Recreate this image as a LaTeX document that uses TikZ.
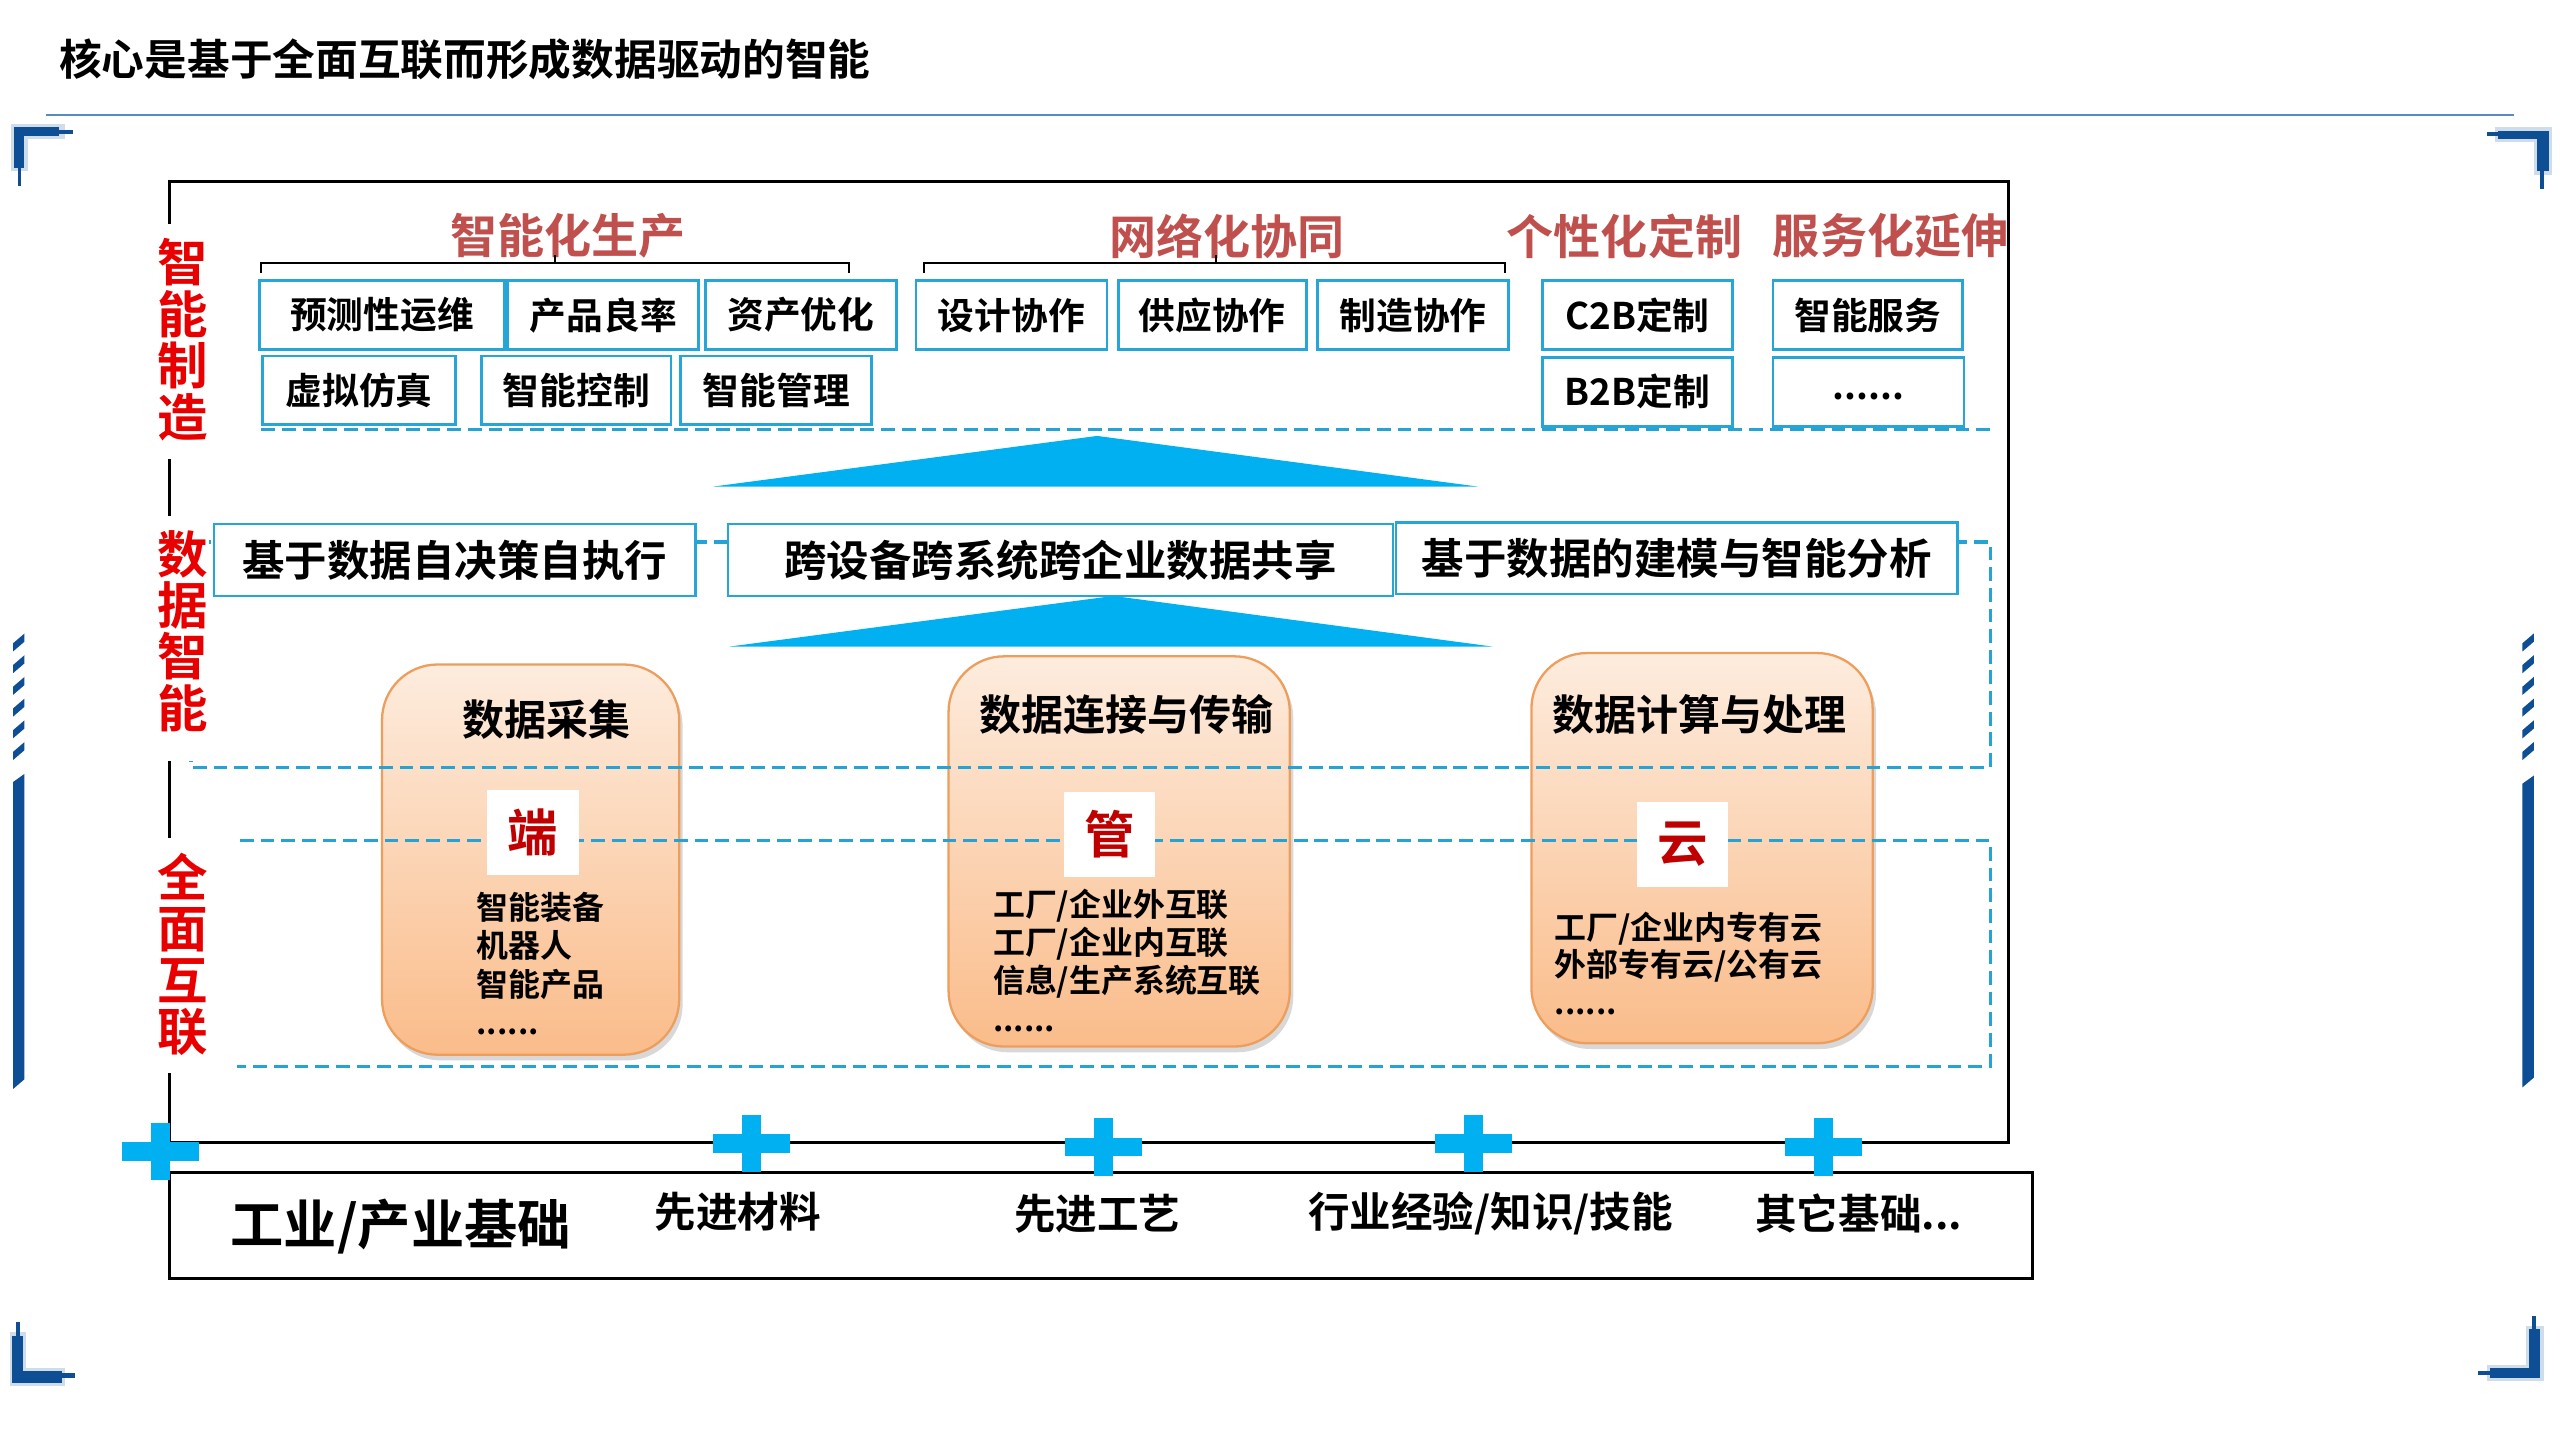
\documentclass[tikz,border=0pt]{standalone}
\usepackage{fontspec}
\newfontfamily\cjk{Noto Sans CJK SC Bold}
\usetikzlibrary{shadows}
\definecolor{cyanb}{RGB}{38,166,216}
\definecolor{tric}{RGB}{0,176,240}
\definecolor{dashc}{RGB}{38,163,213}
\definecolor{subred}{RGB}{192,80,77}
\definecolor{vred}{RGB}{232,0,0}
\definecolor{dred}{RGB}{192,0,0}
\definecolor{navy}{RGB}{14,78,148}
\definecolor{rulec}{RGB}{88,138,196}
\definecolor{oTop}{RGB}{253,236,222}
\definecolor{oBot}{RGB}{250,188,138}
\definecolor{oEdge}{RGB}{238,158,92}
\newcommand\bplus[2]{%
  \fill[tric] ({#1-23.5},{#2-5.75}) rectangle ({#1+23.5},{#2+5.75});
  \fill[tric] ({#1-5.75},{#2-17.5}) rectangle ({#1+5.75},{#2+17.5});}
\begin{document}
\begin{tikzpicture}[x=0.025cm,y=-0.025cm,
  tbox/.style={draw=cyanb, line width=1.2pt, fill=white},
  mbox/.style={draw=cyanb, line width=1pt, fill=white},
  ttext/.style={font=\cjk\fontsize{16}{18}\selectfont, inner sep=0},
  mtext/.style={font=\cjk\fontsize{18.5}{20}\selectfont, inner sep=0},
  dashln/.style={draw=dashc, line width=1.4pt, dash pattern=on 6pt off 3pt},
  subt/.style={text=subred, font=\cjk\fontsize{20.5}{22}\selectfont, inner sep=0},
  vlab/.style={text=vred, align=center, inner sep=0, font=\cjk\fontsize{22}{22.4}\selectfont},
  obox/.style={draw=oEdge, line width=1pt, rounded corners=0.85cm, top color=oTop, bottom color=oBot,
     drop shadow={opacity=0.3, shadow xshift=1.5pt, shadow yshift=-2.5pt}},
  otitle/.style={font=\cjk\fontsize{18.3}{20}\selectfont, inner sep=0},
  sq/.style={fill=white, minimum width=1.4cm, minimum height=1.3cm, text=dred, inner sep=0, font=\cjk\fontsize{22}{24}\selectfont},
  ltext/.style={anchor=base west, inner sep=0, font=\cjk\fontsize{13.9}{16}\selectfont},
  btext/.style={inner sep=0, font=\cjk\fontsize{18.1}{20}\selectfont},
  bigtext/.style={inner sep=0, font=\cjk\fontsize{23.2}{25}\selectfont},
  brace/.style={draw=black, line width=0.8pt}]
\useasboundingbox (0,0) rectangle (1568,882);
\fill[white] (0,0) rectangle (1568,882);

% title and rule
\node[anchor=west, inner sep=0, font=\cjk\fontsize{18.6}{20}\selectfont] (title) at (36,36.5) {核心是基于全面互联而形成数据驱动的智能};
\draw[rulec, line width=0.9pt] (28,70.4) -- (1540,70.4);

% corner brackets
\begin{scope}[navy]
  % top-left
  \fill[navy!20] (7,76) rectangle (17,105); \fill[navy!20] (7,76) rectangle (40,85);
  \fill (8.6,78) rectangle (15,103); \fill (11,103) rectangle (13,114);
  \fill (8.6,78) rectangle (36,83); \fill (36,79.5) rectangle (45,82);
  % top-right
  \fill[navy!20] (1528,78) rectangle (1563,87); \fill[navy!20] (1552,78) rectangle (1563,107);
  \fill (1530,80) rectangle (1561,85); \fill (1523,81) rectangle (1530,83.5);
  \fill (1554,80) rectangle (1561,105); \fill (1556,105) rectangle (1558,116);
  % bottom-left
  \fill[navy!20] (6,816) rectangle (16,849); \fill[navy!20] (6,838) rectangle (40,849);
  \fill (7.6,818) rectangle (14,847); \fill (10,810) rectangle (12,818);
  \fill (7.6,840) rectangle (38,847); \fill (38,841) rectangle (46,844);
  % bottom-right
  \fill[navy!20] (1547,812) rectangle (1558,846); \fill[navy!20] (1523,836) rectangle (1558,846);
  \fill (1549,814) rectangle (1556,844); \fill (1551,806) rectangle (1553,814);
  \fill (1525,838) rectangle (1556,844); \fill (1518,839.5) rectangle (1525,842);
  % side bars
  \foreach \k in {0,...,5} {
    \fill (8,{388+\k*13.3+6}) -- (15,{388+\k*13.3}) -- (15,{388+\k*13.3+5}) -- (8,{388+\k*13.3+11}) -- cycle;
    \fill (1545,{388+\k*13.3+6}) -- (1552,{388+\k*13.3}) -- (1552,{388+\k*13.3+5}) -- (1545,{388+\k*13.3+11}) -- cycle;
  }
  \fill (8,479) -- (15,474) -- (15,661) -- (8,667) -- cycle;
  \fill (1545,480) -- (1552,475) -- (1552,660) -- (1545,666) -- cycle;
\end{scope}

% main frame and base box
\draw[line width=1.2pt] (104,111) rectangle (1230,700);
\draw[line width=1.2pt] (104,718) rectangle (1245,783);

% orange boxes
\draw[obox] (234,407) rectangle (416,646);
\draw[obox] (581,402) rectangle (790,641);
\draw[obox] (938,400) rectangle (1147,639);
\node[otitle] (ot1) at (334.5,440.5) {数据采集};
\node[otitle] (ot2) at (690,437.5) {数据连接与传输};
\node[otitle] (ot3) at (1041,437.5) {数据计算与处理};

% dashed guides
\draw[dashln] (160,263) -- (1220,263);
\draw[dashln] (117,332) rectangle (1219,470);
\draw[dashln] (147,515) -- (1219,515) -- (1219,653) -- (145,653);

% white squares
\node[sq] (duan) at (326.5,510) {端};
\node[sq] (guan) at (679.5,511) {管};
\node[sq] (yun) at (1030.5,517) {云};

% lists
\node[ltext] (a1) at (291.6,563.4) {智能装备};
\node[ltext] (a2) at (291.6,586.4) {机器人};
\node[ltext] (a3) at (291.6,610.4) {智能产品};
\node[ltext] (a4) at (291.6,633.5) {......};
\node[ltext] (b1) at (608,561.4) {工厂/企业外互联};
\node[ltext] (b2) at (608,584.4) {工厂/企业内互联};
\node[ltext] (b3) at (608,607.9) {信息/生产系统互联};
\node[ltext] (b4) at (608,631.5) {......};
\node[ltext] (c1l) at (952,575.4) {工厂/企业内专有云};
\node[ltext] (c2l) at (952,598.4) {外部专有云/公有云};
\node[ltext] (c3l) at (952,621.5) {......};

% middle row
\draw[mbox] (131,321) rectangle (426,365);
\draw[mbox] (446,321) rectangle (853,365);
\draw[mbox] (855,320) rectangle (1199,364);
\node[mtext] (m1) at (278.5,343) {基于数据自决策自执行};
\node[mtext] (m2) at (649.5,343) {跨设备跨系统跨企业数据共享};
\node[mtext] (m3) at (1027,342) {基于数据的建模与智能分析};

% triangles
\fill[tric] (672,267) -- (905,298) -- (437,298) -- cycle;
\fill[tric] (682,365) -- (914,396) -- (447,396) -- cycle;

% top boxes
\draw[tbox] (159,172) rectangle (309,214);
\draw[tbox] (311,172) rectangle (428,214);
\draw[tbox] (432,172) rectangle (549,214);
\draw[tbox] (561,172) rectangle (678,214);
\draw[tbox] (685,172) rectangle (800,214);
\draw[tbox] (807,172) rectangle (924,214);
\draw[tbox] (945,172) rectangle (1061,214);
\draw[tbox] (1086,172) rectangle (1202,214);
\draw[tbox] (161,218) rectangle (279,260);
\draw[tbox] (295,218) rectangle (411,260);
\draw[tbox] (417,218) rectangle (534,260);
\draw[tbox] (945,219) rectangle (1061,261);
\draw[tbox] (1086,219) rectangle (1203,261);
\node[ttext] (p1) at (234,193) {预测性运维};
\node[ttext] (p2) at (369.5,193) {产品良率};
\node[ttext] (p3) at (490.5,193) {资产优化};
\node[ttext] (n1) at (619.5,193) {设计协作};
\node[ttext] (n2) at (742.5,193) {供应协作};
\node[ttext] (n3) at (865.5,193) {制造协作};
\node[ttext] (k1) at (1003,193) {C2B定制};
\node[ttext] (s1) at (1144,193) {智能服务};
\node[ttext] (p4) at (220,239) {虚拟仿真};
\node[ttext] (p5) at (353,239) {智能控制};
\node[ttext] (p6) at (475.5,239) {智能管理};
\node[ttext] (k2) at (1003,240) {B2B定制};
\node[ttext] (s2) at (1144.5,243) {......};

% subtitles and braces
\node[subt] (g1) at (348,144.6) {智能化生产};
\node[subt] (g2) at (751.5,144.6) {网络化协同};
\node[subt] (g3) at (995,144.6) {个性化定制};
\node[subt] (g4) at (1158,144.6) {服务化延伸};
\draw[brace] (160,167) -- (160,161) -- (520,161) -- (520,167);
\draw[brace] (340,161) -- (340,156);
\draw[brace] (566,167) -- (566,161) -- (922,161) -- (922,167);
\draw[brace] (745,161) -- (745,156);

% vertical labels
\fill[white] (96,137) rectangle (128,281);
\fill[white] (96,316) rectangle (128,466);
\fill[white] (96,513) rectangle (128,657);
\node[vlab] (lab1) at (112,208) {智\\能\\制\\造};
\node[vlab] (lab2) at (112,386.5) {数\\据\\智\\能};
\node[vlab] (lab3) at (112,584.5) {全\\面\\互\\联};

% base texts
\node[bigtext] (base) at (245.5,751.5) {工业/产业基础};
\node[btext] (f1) at (452,742.5) {先进材料};
\node[btext] (f2) at (672,743.5) {先进工艺};
\node[btext] (f3) at (913,743) {行业经验/知识/技能};
\node[btext] (f4) at (1138.5,743) {其它基础...};

% plus signs
\bplus{98.5}{705.5}
\bplus{460.5}{700.5}
\bplus{676}{702.5}
\bplus{902.5}{700.5}
\bplus{1117}{702.5}
\end{tikzpicture}
\end{document}
